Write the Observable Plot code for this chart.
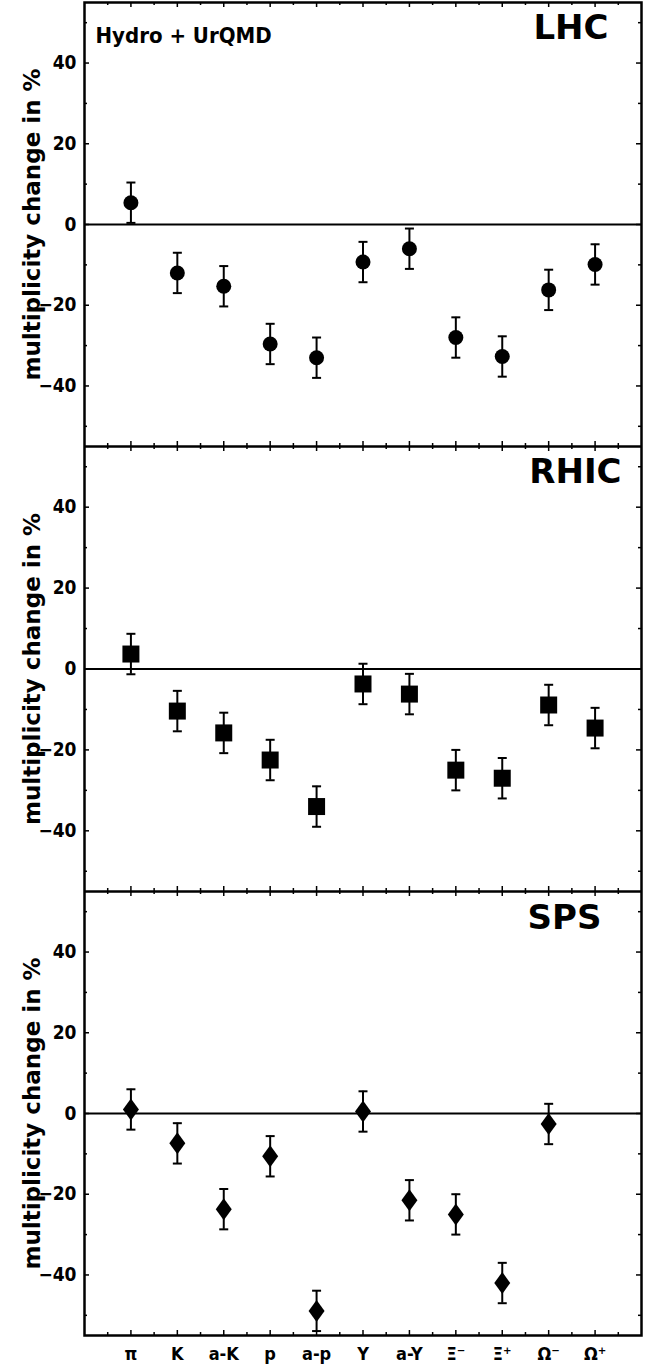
<!DOCTYPE html>
<html>
<head>
<meta charset="utf-8">
<script src="https://cdn.jsdelivr.net/npm/d3@7"></script>
<script src="https://cdn.jsdelivr.net/npm/@observablehq/plot@0.6"></script>
<style>
  html, body { margin: 0; padding: 0; background: white; }
  #chart svg { display: block; }
</style>
</head>
<body>
<div id="chart"></div>
<script>
// ---- data ----
const categories = ["π", "K", "a-K", "p", "a-p", "Y", "a-Y", "Ξ⁻", "Ξ⁺", "Ω⁻", "Ω⁺"];
const panelNames = ["LHC", "RHIC", "SPS"];
const lhcValues  = [5.4, -12.0, -15.3, -29.6, -33.0, -9.3, -6.0, -28.0, -32.7, -16.2, -9.9];
const rhicValues = [3.7, -10.4, -15.8, -22.5, -34.0, -3.7, -6.2, -25.0, -27.0, -8.9, -14.6];
const spsValues  = [1.0, -7.4, -23.7, -10.6, -48.9, 0.5, -21.5, -25.0, -42.0, -2.6, null];
const lhcErrors  = [5, 5, 5, 5, 5, 5, 5, 5, 5, 5, 5];
const rhicErrors = [5, 5, 5, 5, 5, 5, 5, 5, 5, 5, 5];
const spsErrors  = [5, 5, 5, 5, 5, 5, 5, 5, 5, 5, 5];
const yTickLabels = [-40, -20, 0, 20, 40];
const yMinorTicks = [-50, -30, -10, 10, 30, 50];
const xMajorTicks = [1, 2, 3, 4, 5, 6, 7, 8, 9, 10, 11];
const xMinorTicks = [0.5, 1.5, 2.5, 3.5, 4.5, 5.5, 6.5, 7.5, 8.5, 9.5, 10.5, 11.5];
const yTitle = "multiplicity change in %";
const modelLabel = "Hydro + UrQMD";

// ---- symbols ----
const squareSym = {draw(ctx) { ctx.rect(-8.5, -8.5, 17, 17); }};
const diamondSym = {draw(ctx) { ctx.moveTo(0, -11); ctx.lineTo(8, 0); ctx.lineTo(0, 11); ctx.lineTo(-8, 0); ctx.closePath(); }};
const capSym = {draw(ctx) { ctx.moveTo(-4.5, 0); ctx.lineTo(4.5, 0); }};

const W = 651, ML = 84, MR = 10;
const FW = W - ML - MR;
const condensed = "'DejaVu Sans Condensed', 'DejaVu Sans', sans-serif";
const wide = "'DejaVu Sans', sans-serif";

function panel({name, values, errors, symbol, r, top, bottom, height, last, first, labelDx, labelDy}) {
  const data = categories.map((c, i) => ({i: i + 1, c, v: values[i], e: errors[i]})).filter(d => d.v != null);
  const FH = height - top - bottom;
  const marks = [
    Plot.ruleY([0], {stroke: "black", strokeWidth: 2}),
    // inward y ticks left/right
    Plot.tickY(yTickLabels, {y: d => d, insetRight: FW - 5, strokeWidth: 1.5}),
    Plot.tickY(yTickLabels, {y: d => d, insetLeft: FW - 5, strokeWidth: 1.5}),
    Plot.tickY(yMinorTicks, {y: d => d, insetRight: FW - 3, strokeWidth: 1.5}),
    Plot.tickY(yMinorTicks, {y: d => d, insetLeft: FW - 3, strokeWidth: 1.5}),
    // inward x ticks top/bottom
    Plot.tickX(xMajorTicks, {x: d => d, insetBottom: FH - 5, strokeWidth: 1.5}),
    Plot.tickX(xMajorTicks, {x: d => d, insetTop: FH - 5, strokeWidth: 1.5}),
    Plot.tickX(xMinorTicks, {x: d => d, insetBottom: FH - 3, strokeWidth: 1.5}),
    Plot.tickX(xMinorTicks, {x: d => d, insetTop: FH - 3, strokeWidth: 1.5}),
    Plot.frame({stroke: "black", strokeWidth: 2.5}),
    // error bars
    Plot.ruleX(data, {x: "i", y1: d => d.v - d.e, y2: d => d.v + d.e, stroke: "black", strokeWidth: 2}),
    Plot.dot(data, {x: "i", y: d => d.v + d.e, symbol: capSym, r: 4, stroke: "black", strokeWidth: 2, fill: "none"}),
    Plot.dot(data, {x: "i", y: d => d.v - d.e, symbol: capSym, r: 4, stroke: "black", strokeWidth: 2, fill: "none"}),
    Plot.dot(data, {x: "i", y: "v", symbol, r, fill: "black", stroke: "none"}),
    Plot.axisY({ticks: yTickLabels, tickSize: 0, tickPadding: 8, fontSize: 19, fontFamily: condensed, fontWeight: "bold", label: null}),
    Plot.text([yTitle], {frameAnchor: "left", textAnchor: "middle", lineAnchor: "middle", rotate: -90, dx: -52, fontSize: 23, fontFamily: wide, fontWeight: "bold"}),
    Plot.text([name], {frameAnchor: "top-right", textAnchor: "end", lineAnchor: "top", dx: labelDx, dy: labelDy, fontSize: 34, fontWeight: "bold", fontFamily: wide})
  ];
  if (first) {
    marks.push(Plot.text([modelLabel], {frameAnchor: "top-left", textAnchor: "start", lineAnchor: "top", dx: 11, dy: 25, fontSize: 22, fontWeight: "bold", fontFamily: condensed}));
  }
  if (last) {
    marks.push(Plot.axisX({ticks: xMajorTicks, tickFormat: i => categories[i - 1], tickSize: 0, tickPadding: 12, fontSize: 18, fontWeight: "bold", fontFamily: condensed, label: null}));
  }
  return Plot.plot({
    width: W,
    height,
    marginLeft: ML,
    marginRight: MR,
    marginTop: top,
    marginBottom: bottom,
    x: {domain: [0, 12], axis: last ? undefined : null},
    y: {domain: [-55, 55]},
    style: {fontFamily: condensed, fontWeight: "bold", color: "black", background: "white", overflow: "hidden"},
    marks
  });
}

const chart = document.getElementById("chart");
chart.appendChild(panel({name: panelNames[0], values: lhcValues, errors: lhcErrors, symbol: "circle", r: 7.5, top: 2, bottom: 0, height: 446, first: true, labelDx: -33, labelDy: 12}));
chart.appendChild(panel({name: panelNames[1], values: rhicValues, errors: rhicErrors, symbol: squareSym, r: 8, top: 0, bottom: 0, height: 445, labelDx: -20, labelDy: 12}));
chart.appendChild(panel({name: panelNames[2], values: spsValues, errors: spsErrors, symbol: diamondSym, r: 8, top: 0, bottom: 31, height: 475, last: true, labelDx: -40, labelDy: 13}));
</script>
</body>
</html>
